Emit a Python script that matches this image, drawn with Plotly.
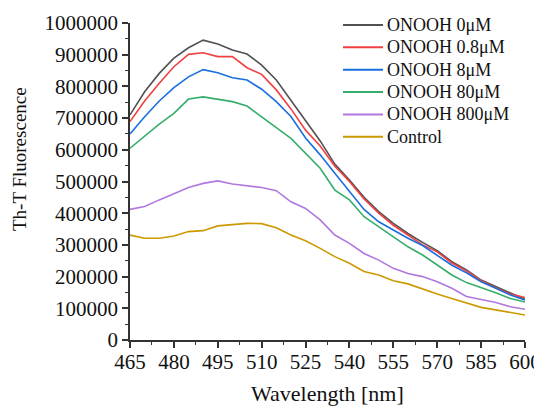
import plotly.graph_objects as go

wavelength = list(range(465, 601, 5))

onooh_0 = [710, 783, 841, 889, 922, 946, 934, 915, 902, 867, 820, 757, 694, 628,
           555, 505, 450, 405, 368, 336, 308, 282, 247, 221, 189, 168, 147, 128]
onooh_08 = [689, 754, 810, 862, 901, 906, 894, 894, 859, 838, 789, 729, 662, 612,
            548, 500, 445, 400, 362, 330, 300, 278, 243, 218, 187, 165, 145, 134]
onooh_8 = [650, 704, 754, 796, 830, 853, 843, 827, 820, 791, 752, 705, 637, 584,
           526, 468, 412, 373, 347, 321, 298, 268, 236, 212, 184, 163, 142, 126]
onooh_80 = [605, 644, 681, 715, 760, 767, 759, 752, 738, 705, 670, 636, 589, 542,
            473, 442, 389, 357, 326, 294, 268, 237, 205, 181, 166, 149, 131, 120]
onooh_800 = [412, 421, 442, 461, 481, 494, 502, 492, 487, 481, 471, 436, 415, 379,
             331, 305, 273, 252, 226, 210, 200, 184, 163, 137, 128, 118, 105, 97]
control = [331, 321, 321, 328, 342, 345, 360, 365, 368, 367, 354, 331, 313, 289,
           263, 242, 216, 205, 187, 177, 160, 145, 131, 118, 103, 95, 86, 79]

series_names = ["ONOOH 0μM", "ONOOH 0.8μM", "ONOOH 8μM", "ONOOH 80μM",
                "ONOOH 800μM", "Control"]
series_values = [onooh_0, onooh_08, onooh_8, onooh_80, onooh_800, control]
colors = ["#515151", "#F14040", "#1A6FDF", "#37AD6B", "#B177DE", "#CC9900"]

font = "Liberation Serif"
ink = "#111111"

# figure is drawn inside the page's 8px body margin
W, H = 534, 398
L, R, T, B = 122, 17, 6, 66
plot_w = W - L - R
paper_h = H - T - B


def px(x):
    return (x - L) / plot_w


def py(y):
    return (H - B - y) / paper_h


fig = go.Figure()
for i, (name, vals, col) in enumerate(zip(series_names, series_values, colors)):
    fig.add_trace(go.Scatter(x=wavelength, y=[v * 1000 for v in vals],
                             mode="lines", name=name, showlegend=False,
                             line=dict(color=col, width=1.6)))
    # hand-made legend entry (line sample + label)
    yp = py(17 + i * 22.35)
    fig.add_shape(type="line", xref="paper", yref="paper",
                  x0=px(335), x1=px(375), y0=yp, y1=yp,
                  line=dict(color=col, width=2))
    fig.add_annotation(xref="paper", yref="paper", x=px(377), y=yp,
                       xanchor="left", yanchor="middle", showarrow=False,
                       text=name, font=dict(family=font, size=18, color=ink))

# axis titles
fig.add_annotation(xref="paper", yref="paper", x=0.5, y=py(385),
                   xanchor="center", yanchor="middle", showarrow=False,
                   text="Wavelength [nm]", font=dict(family=font, size=22, color=ink))
fig.add_annotation(xref="paper", yref="paper", x=px(11), y=py(151),
                   xanchor="center", yanchor="middle", showarrow=False,
                   textangle=-90, text="Th-T Fluorescence",
                   font=dict(family=font, size=19, color=ink))

axis_style = dict(showline=True, linecolor="#333333", linewidth=1.5,
                  ticks="outside", ticklen=6, tickwidth=1.5, tickcolor="#333333",
                  showgrid=False, zeroline=False, mirror=False, automargin=False,
                  tickfont=dict(family=font, size=21, color=ink))

fig.update_xaxes(range=[465, 600], tick0=465, dtick=15,
                 ticklabelstandoff=-4,
                 minor=dict(ticks="outside", ticklen=3, tickwidth=1.2,
                            tickcolor="#333333", dtick=7.5, tick0=465),
                 **axis_style)
fig.update_yaxes(range=[0, 1000000], dtick=100000, tickformat="d",
                 domain=[0, 1 - 9 / paper_h],
                 minor=dict(ticks="outside", ticklen=3, tickwidth=1.2,
                            tickcolor="#333333", dtick=50000),
                 **axis_style)

fig.update_layout(
    width=W, height=H,
    font=dict(family=font, color=ink),
    margin=dict(l=L, r=R, t=T, b=B, autoexpand=False),
    plot_bgcolor="white", paper_bgcolor="white",
    showlegend=False,
)

fig.write_html("out.html")
